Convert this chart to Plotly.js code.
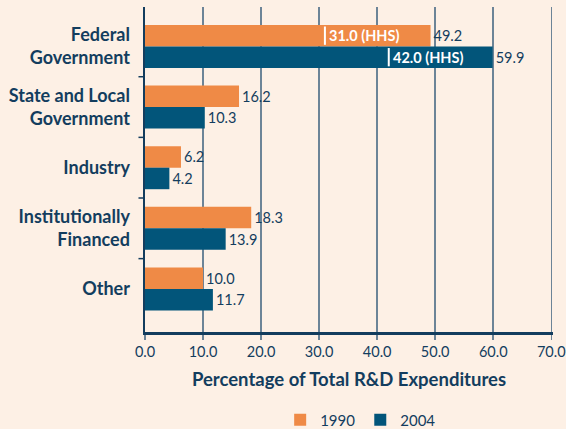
<!DOCTYPE html>
<html><head><meta charset="utf-8">
<script src="https://cdn.plot.ly/plotly-3.0.1.min.js"></script>
<style>html,body{margin:0;padding:0;background:#fdf0e5;}</style>
</head><body>
<div id="chart" style="width:566px;height:429px;"></div>
<script>
const categories = ["Federal<br>Government", "State and Local<br>Government", "Industry", "Institutionally<br>Financed", "Other"];
const values1990 = [49.2, 16.2, 6.2, 18.3, 10.0];
const values2004 = [59.9, 10.3, 4.2, 13.9, 11.7];
const hhs1990 = 31.0;
const hhs2004 = 42.0;
const xTicks = [0, 10, 20, 30, 40, 50, 60, 70];

const navy = "#133d5e";
const orange = "#ef8a46";
const blue = "#02557a";
const bargap = 0.29;
const off = (1 - bargap) / 4;

const traces = [
  {type: "bar", orientation: "h", name: "1990", y: categories, x: values1990,
   marker: {color: orange}, text: values1990.map(v => v.toFixed(1)), textposition: "outside",
   textfont: {color: navy, size: 14.5}, cliponaxis: false, hoverinfo: "none"},
  {type: "bar", orientation: "h", name: "2004", y: categories, x: values2004,
   marker: {color: blue}, text: values2004.map(v => v.toFixed(1)), textposition: "outside",
   textfont: {color: navy, size: 14.5}, cliponaxis: false, hoverinfo: "none"}
];

const shapes = [];
for (let i = 0; i < categories.length - 1; i++) {
  shapes.push({type: "line", xref: "paper", yref: "y", x0: -0.016, x1: 0, y0: i + 0.5, y1: i + 0.5,
    line: {color: navy, width: 1.5}});
}
[[hhs1990, -off], [hhs2004, off]].forEach(([v, o]) => {
  shapes.push({type: "line", xref: "x", yref: "y", x0: v, x1: v, y0: o - off * 0.85, y1: o + off * 0.85,
    line: {color: "white", width: 2}});
});

const annotations = [
  {x: hhs1990, y: -off, xref: "x", yref: "y", text: "<b>" + hhs1990.toFixed(1) + " (HHS)</b>", showarrow: false,
   xanchor: "left", xshift: 2, font: {color: "white", size: 14.5}},
  {x: hhs2004, y: off, xref: "x", yref: "y", text: "<b>" + hhs2004.toFixed(1) + " (HHS)</b>", showarrow: false,
   xanchor: "left", xshift: 2, font: {color: "white", size: 14.5}}
];

const layout = {
  width: 566, height: 429,
  paper_bgcolor: "#fdf0e5", plot_bgcolor: "#fdf0e5",
  margin: {l: 145, r: 13, t: 7, b: 97, autoexpand: false},
  font: {family: "Lato, 'Open Sans', sans-serif", color: navy},
  barmode: "group", bargap: bargap, bargroupgap: 0,
  showlegend: true,
  legend: {orientation: "h", xref: "container", yref: "container", x: 0.495, xanchor: "left", y: 0.021, yanchor: "middle",
    font: {size: 15, color: navy}, bgcolor: "rgba(0,0,0,0)", itemwidth: 30, traceorder: "normal"},
  xaxis: {range: [0, 70.3], tickvals: xTicks, ticktext: xTicks.map(v => v.toFixed(1)),
    showgrid: true, gridcolor: "#6c8497", gridwidth: 1.5, ticklabeloverflow: "allow",
    showline: true, linecolor: navy, linewidth: 2.5,
    ticks: "outside", ticklen: 5, tickcolor: "#6c8497", tickwidth: 1.5,
    tickfont: {size: 14.5, color: navy}, zeroline: false, automargin: false,
    title: {text: "<b>Percentage of Total R&D Expenditures</b>", font: {size: 18.5, color: navy}, standoff: 14}},
  yaxis: {type: "category", range: [4.71, -0.65], showgrid: false, automargin: false,
    showline: true, linecolor: navy, linewidth: 2.5, ticks: "", ticklabelstandoff: 9,
    tickfont: {size: 18, color: navy, weight: "bold"}, zeroline: false},
  shapes: shapes, annotations: annotations
};

Plotly.newPlot("chart", traces, layout, {staticPlot: true, displayModeBar: false});
</script>
</body></html>
